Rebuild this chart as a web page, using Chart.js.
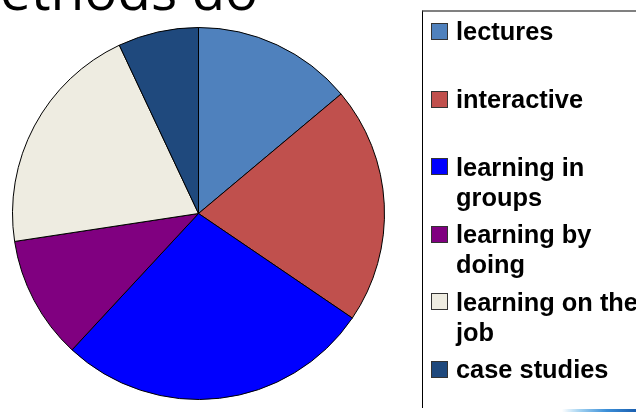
<!DOCTYPE html>
<html>
<head>
<meta charset="utf-8">
<script src="https://cdn.jsdelivr.net/npm/chart.js@4/dist/chart.umd.min.js"></script>
<style>
  html, body { margin: 0; padding: 0; background: #fff; }
  #wrap { position: relative; width: 636px; height: 412px; overflow: hidden; }
  #c { position: absolute; left: 0; top: 0; }
  #legendBox { position: absolute; left: 422px; top: 10px; width: 240px; height: 398px;
    border-top: 2px solid #808080; border-left: 1.5px solid #000; box-sizing: border-box; }
  .item { position: absolute; left: 431px; }
  .mk { position: absolute; left: 0; top: 6.7px; width: 15px; height: 15px; border: 1px solid #333; }
  .tx { position: absolute; left: 25px; top: 0; width: 190px; font: bold 25.4px "Liberation Sans", Arial, sans-serif;
    line-height: 30px; color: #000; white-space: normal; }
  #swoosh { position: absolute; left: 562px; top: 409px; width: 74px; height: 3px;
    background: linear-gradient(to right, rgba(255,255,255,0), #9fd0f0 25%, #3c8fd8 60%, #1a5fb0); }
</style>
</head>
<body>
<div id="wrap">
  <canvas id="c" width="636" height="412"></canvas>
  <div id="legendBox"></div>
  <div id="legend"></div>
  <div id="swoosh"></div>
</div>
<script>
const titleText = "ethods do";
const categories = ["lectures", "interactive", "learning in groups", "learning by doing", "learning on the job", "case studies"];
const values = [13.9, 20.6, 27.4, 10.7, 20.4, 7.0];
const colors = ["#4F81BD", "#C0504D", "#0000FF", "#800080", "#EEECE1", "#1F497D"];

const titlePlugin = {
  id: 'titleText',
  afterDraw(chart) {
    const ctx = chart.ctx;
    ctx.save();
    ctx.font = '55px "Open Sans", "Noto Sans", sans-serif';
    ctx.fillStyle = '#000';
    ctx.textBaseline = 'alphabetic';
    ctx.textAlign = 'left';
    ctx.fillText(titleText, 0, 10);
    ctx.restore();
  }
};

const chart = new Chart(document.getElementById('c'), {
  type: 'pie',
  data: {
    labels: categories,
    datasets: [{
      data: values,
      backgroundColor: colors,
      borderColor: '#000',
      borderWidth: 1
    }]
  },
  options: {
    responsive: false,
    animation: false,
    layout: { padding: { left: 12, top: 27, right: 251, bottom: 12 } },
    plugins: { legend: { display: false }, tooltip: { enabled: false }, title: { display: false } }
  },
  plugins: [titlePlugin]
});

// HTML legend built from chart data
const legend = document.getElementById('legend');
const ds = chart.data.datasets[0];
chart.data.labels.forEach((lab, i) => {
  const item = document.createElement('div');
  item.className = 'item';
  item.style.top = (16.3 + i * 67.6) + 'px';
  const mk = document.createElement('div');
  mk.className = 'mk';
  mk.style.background = ds.backgroundColor[i];
  const tx = document.createElement('div');
  tx.className = 'tx';
  tx.textContent = lab;
  item.appendChild(mk);
  item.appendChild(tx);
  legend.appendChild(item);
});
</script>
</body>
</html>
